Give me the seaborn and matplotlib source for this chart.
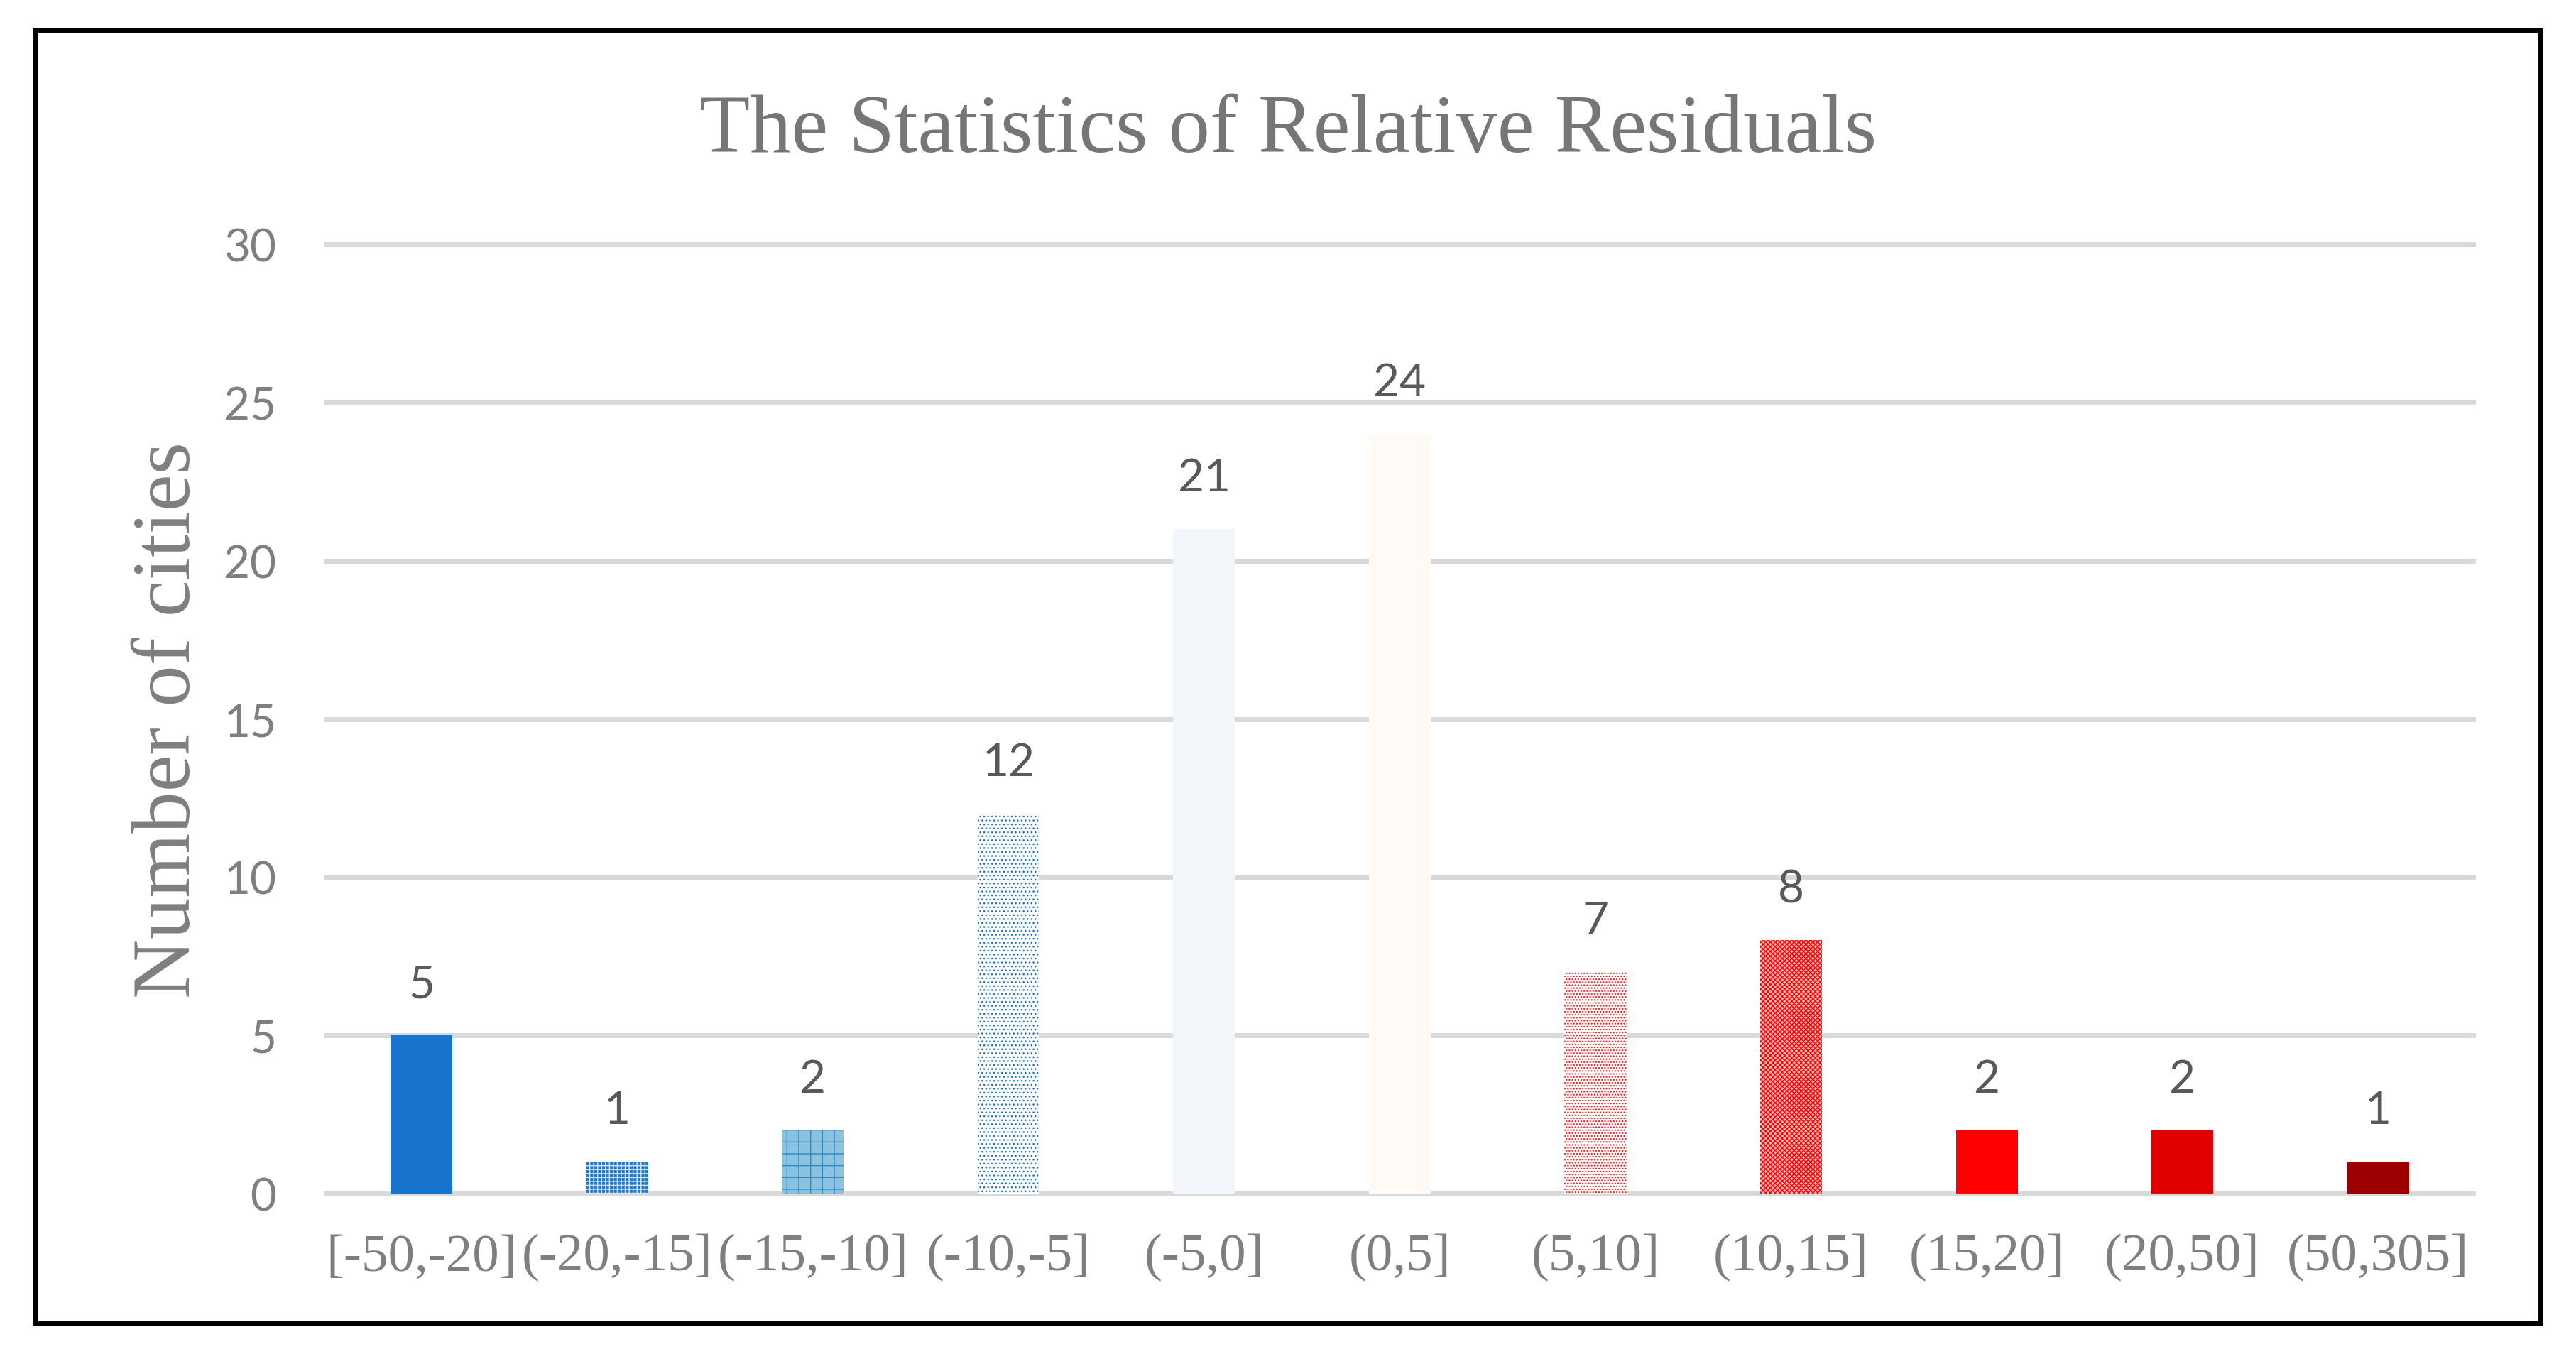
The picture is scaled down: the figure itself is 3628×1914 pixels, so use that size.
import matplotlib
matplotlib.use("Agg")
import matplotlib.pyplot as plt
import seaborn as sns
import pandas as pd
from matplotlib.patches import Rectangle

# data
bins = ['[-50,-20]', '(-20,-15]', '(-15,-10]', '(-10,-5]', '(-5,0]', '(0,5]',
        '(5,10]', '(10,15]', '(15,20]', '(20,50]', '(50,305]']
counts = [5, 1, 2, 12, 21, 24, 7, 8, 2, 2, 1]
y_ticks = [0, 5, 10, 15, 20, 25, 30]

face_colors = ['#1874cd', '#1f78d1', '#8cc2de', '#ffffff', '#f2f6fb', '#fffaf6',
               '#ffffff', '#ffb8b8', '#ff0000', '#e00000', '#9c0000']
hatch_styles = [None, '+++', '+', '...', None, None, '....', 'xxxxx', None, None, None]
hatch_colors = [None, '#d6e8f8', '#2b8cc4', '#1670c8', None, None, '#ff1010', '#ff0000',
                None, None, None]

df = pd.DataFrame({'bin': bins, 'count': counts})

sns.set_style('white')
plt.rcParams['hatch.linewidth'] = 1.0

SERIF = 'Liberation Serif'
SANS = 'Lato'

fig = plt.figure(figsize=(36.28, 19.15), dpi=100)
ax = fig.add_axes([0.1257, 0.117, 0.8354, 0.7075])

sns.barplot(data=df, x='bin', y='count', hue='bin', palette=face_colors,
            saturation=1, width=0.316, legend=False, ax=ax)

for bar, h, hc in zip(ax.patches, hatch_styles, hatch_colors):
    bar.set_linewidth(0)
    if h:
        bar.set_hatch(h)
        bar.set_edgecolor(hc)

for cont in ax.containers:
    ax.bar_label(cont, padding=31, fontsize=46, color='#595959', family=SANS)

ax.set_ylim(-0.2, 30.2)
ax.set_xlim(-0.5, len(bins) - 0.5)
ax.set_yticks(y_ticks)
ax.yaxis.grid(True, color='#d9d9d9', linewidth=5)
ax.set_axisbelow(True)
for s in ax.spines.values():
    s.set_visible(False)

ax.tick_params(axis='y', length=0, pad=48, labelsize=46, labelcolor='#7f7f7f')
ax.tick_params(axis='x', length=0, pad=34, labelsize=54, labelcolor='#7f7f7f')
for t in ax.get_yticklabels():
    t.set_family(SANS)
for t in ax.get_xticklabels():
    t.set_family(SERIF)

ax.set_xlabel('')
ax.set_ylabel('')

fig.text(0.5, 0.903, 'The Statistics of Relative Residuals', ha='center', va='center',
         fontsize=84, color='#767676', family=SERIF)
fig.text(0.066, 0.4705, 'Number of cities', ha='center', va='center', rotation=90,
         fontsize=84, color='#7f7f7f', family=SERIF)

# black frame round the chart
fig.patches.append(Rectangle((0.0138, 0.0262), 0.9725, 0.9515, transform=fig.transFigure,
                             fill=False, edgecolor='black', linewidth=5))

fig.savefig('out.png', dpi=100)
